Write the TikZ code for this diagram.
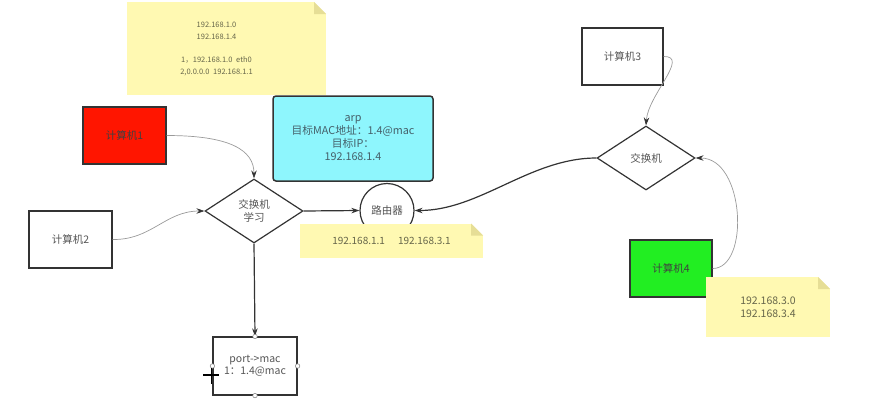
\documentclass[tikz,border=0pt]{standalone}
\usepackage{fontspec}
\setmainfont{Noto Sans CJK SC}
\usetikzlibrary{shapes.geometric,arrows.meta}
\definecolor{notefill}{HTML}{FFF9B2}
\definecolor{foldc}{HTML}{E6DE96}
\definecolor{cyanfill}{HTML}{8EF6FD}
\definecolor{redfill}{HTML}{FF1500}
\definecolor{greenfill}{HTML}{22EE22}
\definecolor{linec}{HTML}{333333}
\definecolor{textc}{HTML}{555555}
\definecolor{notetext}{HTML}{66664A}
\definecolor{cyantext}{HTML}{45606A}
\definecolor{softline}{HTML}{9A9A9A}
\begin{document}
\begin{tikzpicture}[x=1pt,y=-1pt,
  txt/.style={text=textc, font=\fontsize{10.5}{12.5}\selectfont, align=center},
  box/.style={txt, draw=linec, line width=1.2pt, minimum width=83pt, minimum height=57pt, inner sep=0pt},
  sw/.style={txt, diamond, draw=linec, line width=1.2pt, minimum width=98pt, minimum height=64pt, inner sep=0pt},
  note/.style={txt, text=notetext, fill=notefill, inner sep=0pt,
    path picture={
      \fill[white] (path picture bounding box.north east) -- ([xshift=-12pt]path picture bounding box.north east) -- ([yshift=-12pt]path picture bounding box.north east) -- cycle;
      \fill[foldc] ([xshift=-12pt]path picture bounding box.north east) -- ([yshift=-12pt]path picture bounding box.north east) -- ([xshift=-12pt,yshift=-12pt]path picture bounding box.north east) -- cycle;}},
  handle/.style={circle, draw=gray, fill=white, line width=0.5pt, minimum size=4.5pt, inner sep=0pt},
  softarrow/.style={draw=softline, line width=0.7pt, -{Stealth[length=8pt,width=5.5pt,color=linec]}},
  hardarrow/.style={draw=linec, line width=1.2pt, -{Stealth[length=8pt,width=5.5pt,color=linec]}}
]
\useasboundingbox (0,0) rectangle (874,416);

% top note
\node[note, minimum width=199pt, minimum height=93pt, align=none, font=\fontsize{7.5}{12.5}\selectfont] (n1) at (226.5,48.5)
  {\raisebox{-2.5pt}{\begin{tabular}{@{}c@{}}192.168.1.0\\192.168.1.4\\[10pt]1，192.168.1.0\hspace{0.5em}eth0\\2,0.0.0.0\hspace{0.5em}192.168.1.1\end{tabular}}\hspace*{20pt}};

% arp box
\node[txt, text=cyantext, align=none, font=\fontsize{10.8}{12.5}\selectfont, draw=linec, line width=1.5pt, fill=cyanfill, rounded corners=3pt,
  minimum width=160pt, minimum height=85pt, inner sep=0pt] (arp) at (353,138.5)
  {\raisebox{-3pt}{\begin{tabular}{@{}c@{}}arp\\目标MAC地址：1.4@mac\\目标IP：\\192.168.1.4\end{tabular}}};

% computers
\node[box, fill=redfill, text=black!75] (c1) at (124.5,135.5) {计算机1};
\node[box] (c2) at (70.5,239.5) {计算机2};
\node[box, minimum width=81pt] (c3) at (622.5,56.5) {计算机3};
\node[box, minimum width=82pt, fill=greenfill, text=black!75] (c4) at (671,268.5) {计算机4};

% switches
\node[sw] (s1) at (254,211) {交换机\\学习};
\node[sw] (s2) at (646,158) {交换机};

% router and its note
\node[txt, circle, draw=linec, line width=1.2pt, fill=white, minimum size=54pt, inner sep=0pt] (r) at (387,210.5) {路由器};
\node[note, minimum width=183pt, minimum height=34pt, font=\fontsize{10}{12.5}\selectfont] (n2) at (391.5,240.5) {192.168.1.1\hspace{1.3em}192.168.3.1};

% note of computer 4
\node[note, minimum width=124pt, minimum height=60pt] (n3) at (768,307) {192.168.3.0\\192.168.3.4};

% port table
\node[box, minimum width=84pt, minimum height=58pt, font=\fontsize{10.5}{12}\selectfont] (port) at (255,366) {port->mac\\1：1.4@mac};

% connectors
\draw[softarrow] (c1.east) .. controls (230,135.5) and (254,150) .. (s1.north);
\draw[softarrow] (c2.east) .. controls (152,240) and (165,211) .. (s1.west);
\draw[hardarrow] (s1.east) -- (r.west);
\draw[hardarrow] (s1.south) -- (port.north);
\draw[softarrow] (c3.east) .. controls (690,56) and (648,95) .. (s2.north);
\draw[hardarrow] (s2.west) .. controls (530,158) and (480,210.5) .. (r.east);
\draw[softarrow] (c4.east) .. controls (750,268.5) and (745,158) .. (s2.east);

% selection handles on the port table
\node[handle] (h1) at (port.north) {};
\node[handle] (h2) at (port.south) {};
\node[handle] (h3) at (port.west) {};
\node[handle] (h4) at (port.east) {};

% mouse cursor
\draw[black, line width=1.8pt] (203,375) -- (219,375) (211.5,368) -- (211.5,384);
\end{tikzpicture}
\end{document}
